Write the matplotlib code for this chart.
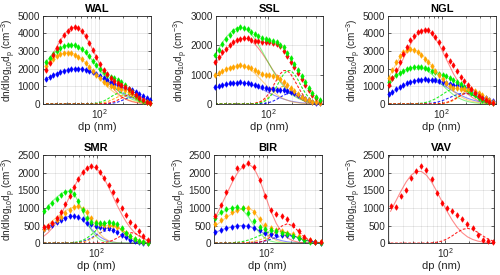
import matplotlib
matplotlib.use("Agg")
import matplotlib.pyplot as plt
from matplotlib.ticker import LogLocator, NullFormatter

plt.rcParams['font.family'] = ['Liberation Sans', 'DejaVu Sans']
plt.rcParams['mathtext.fontset'] = 'custom'
plt.rcParams['mathtext.rm'] = 'Liberation Sans'
plt.rcParams['mathtext.it'] = 'Liberation Sans:italic'
plt.rcParams['mathtext.default'] = 'regular'

# size bins (nm)
dp30 = [21.8, 24.2, 26.8, 29.7, 33.0, 36.6, 40.5, 45.0, 49.9, 55.3, 61.3, 68.0, 75.4, 83.7, 92.8,
        103, 114, 127, 140, 156, 173, 191, 212, 236, 261, 290, 321, 356, 395, 438]
dp25 = [21.7, 24.6, 27.9, 31.6, 35.8, 40.5, 45.9, 52.0, 58.9, 66.8, 75.6, 85.7, 97.1, 110, 125,
        141, 160, 181, 206, 233, 264, 299, 339, 384, 435]
dp20 = [22.6, 26.5, 31.1, 36.6, 42.9, 50.4, 59.2, 69.5, 81.6, 95.8, 112, 132, 155, 182, 214,
        251, 295, 346, 406, 477]
dp21 = [20.9, 24.2, 28.1, 32.6, 37.7, 43.7, 50.7, 58.7, 68.1, 78.9, 91.4, 106, 123, 142, 165,
        191, 221, 257, 297, 345, 399]

# WAL
wal_red = [1950, 2300, 2750, 3150, 3550, 3900, 4150, 4300, 4380, 4330, 4150, 3850, 3450, 3050, 2650,
           2250, 1950, 1700, 1480, 1300, 1180, 1080, 960, 830, 660, 480, 330, 210, 130, 70]
wal_red_m1 = [2040, 2436, 2841, 3236, 3597, 3911, 4150, 4298, 4350, 4289, 4115, 3837, 3484, 3075, 2640,
              2201, 1788, 1414, 1083, 809, 587, 418, 287, 191, 126, 78, 48, 30, 17, 9]
wal_red_m2 = [0] * 15 + [6, 16, 36, 74, 137, 226, 334, 441, 520, 550, 520, 441, 334, 226, 137]
wal_green = [2400, 2620, 2820, 3000, 3150, 3260, 3330, 3350, 3330, 3240, 3100, 2920, 2700, 2450, 2210,
             1980, 1790, 1640, 1530, 1450, 1360, 1240, 1070, 870, 650, 450, 300, 180, 110, 60]
wal_green_m1 = [2385, 2610, 2817, 2998, 3149, 3260, 3327, 3350, 3320, 3233, 3092, 2908, 2683, 2432, 2167,
                1896, 1631, 1377, 1142, 931, 747, 586, 452, 345, 258, 188, 134, 94, 67, 44]
wal_green_m2 = [0] * 12 + [7, 19, 43, 88, 162, 267, 395, 521, 615, 650, 615, 521, 395, 267, 162, 88, 43, 19]
wal_orange = [2150, 2380, 2560, 2700, 2810, 2880, 2900, 2880, 2800, 2680, 2520, 2330, 2110, 1890, 1660,
              1450, 1260, 1120, 1010, 950, 910, 870, 800, 700, 560, 420, 290, 180, 110, 60]
wal_orange_m1 = [2190, 2387, 2558, 2703, 2810, 2877, 2900, 2874, 2799, 2677, 2517, 2323, 2105, 1876, 1641,
                 1412, 1192, 989, 806, 647, 508, 392, 299, 223, 162, 116, 81, 58, 38, 25]
wal_orange_m2 = [0] * 14 + [15, 33, 68, 125, 206, 304, 401, 473, 500, 473, 401, 304, 206, 125, 68, 33]
wal_blue = [1420, 1530, 1630, 1720, 1800, 1870, 1920, 1960, 1990, 2000, 1990, 1950, 1890, 1810, 1720,
            1610, 1490, 1360, 1245, 1140, 1050, 970, 900, 840, 800, 700, 580, 450, 320, 200]
wal_blue_m1 = [1430, 1535, 1634, 1724, 1804, 1872, 1926, 1967, 1992, 2000, 1984, 1938, 1864, 1764, 1646,
               1510, 1364, 1214, 1062, 916, 778, 650, 534, 432, 344, 270, 210, 160, 120, 88]
wal_blue_m2 = [0] * 17 + [13, 30, 61, 112, 185, 273, 360, 426, 450, 426, 360, 273, 185]

# SSL
ssl_red = [1440, 1600, 1750, 1880, 2000, 2100, 2170, 2220, 2240, 2230, 2190, 2150, 2130, 2120, 2110,
           2100, 2080, 2040, 1960, 1800, 1620, 1430, 1240, 1050, 860, 660, 480, 310, 190, 90]
ssl_red_m1 = [1354, 1521, 1684, 1835, 1967, 2078, 2161, 2212, 2230, 2208, 2141, 2034, 1893, 1728, 1545,
              1354, 1160, 977, 803, 649, 513, 397, 301, 225, 163, 116, 83, 56, 38, 25]
ssl_red_m2 = [0] * 11 + [21, 51, 110, 214, 374, 582, 813, 1014, 1134, 1134, 1014, 813, 582, 374, 214, 110,
                         51, 21, 8]
ssl_green = [1660, 1850, 2030, 2200, 2350, 2470, 2560, 2600, 2590, 2540, 2460, 2380, 2310, 2250, 2210,
             2180, 2150, 2100, 2020, 1920, 1740, 1560, 1360, 1160, 950, 740, 540, 370, 230, 130]
ssl_green_m1 = [1682, 1888, 2083, 2257, 2400, 2509, 2577, 2600, 2574, 2496, 2371, 2207, 2015, 1802, 1578,
                1352, 1139, 936, 757, 598, 463, 351, 263, 190, 135, 96, 65, 44, 29, 18]
ssl_green_m2 = [0] * 12 + [21, 51, 110, 214, 374, 582, 813, 1014, 1134, 1134, 1014, 813, 582, 374, 214,
                           110, 51, 21]
ssl_orange = [1000, 1060, 1120, 1180, 1230, 1270, 1300, 1310, 1300, 1270, 1220, 1160, 1090, 1030, 990,
              970, 950, 920, 860, 760, 650, 540, 440, 340, 250, 180, 120, 80, 50, 30]
ssl_orange_m1 = [961, 1041, 1114, 1178, 1230, 1269, 1292, 1300, 1282, 1230, 1147, 1041, 919, 789, 658,
                 534, 423, 324, 242, 176, 125, 86, 57, 38, 23, 14, 9, 5, 3, 1]
ssl_orange_m2 = [0] * 10 + [7, 17, 40, 81, 149, 247, 364, 481, 568, 600, 568, 481, 364, 247, 149, 81, 40,
                            17, 7, 3]
ssl_blue = [560, 600, 640, 670, 700, 715, 725, 730, 725, 710, 680, 640, 600, 560, 530,
            510, 500, 490, 480, 460, 430, 390, 360, 310, 240, 170, 120, 70, 40, 20]
ssl_blue_m1 = [532, 577, 617, 652, 681, 703, 716, 720, 713, 691, 657, 611, 558, 499, 437,
               374, 315, 259, 210, 166, 128, 97, 73, 53, 37, 27, 18, 12, 8, 5]
ssl_blue_m2 = [0] * 12 + [4, 11, 24, 50, 92, 152, 225, 296, 350, 370, 350, 296, 225, 152, 92, 50, 24, 11]

# NGL
ngl_red = [1050, 1450, 1900, 2400, 2850, 3250, 3600, 3870, 4050, 4150, 4200, 4170, 4030, 3800, 3500,
           3150, 2780, 2450, 2180, 1850, 1550, 1300, 1060, 840, 630, 450, 310, 210, 130, 80]
ngl_red_m1 = [1046, 1365, 1726, 2125, 2549, 2969, 3364, 3704, 3973, 4141, 4200, 4141, 3973, 3704, 3364,
              2969, 2549, 2125, 1726, 1365, 1046, 781, 567, 403, 277, 185, 122, 76, 46, 29]
ngl_red_m2 = [0] * 13 + [7, 17, 40, 81, 149, 247, 364, 481, 568, 600, 568, 481, 364, 247, 149, 81, 40]
ngl_orange = [1450, 1900, 2350, 2700, 2950, 3080, 3100, 3060, 2950, 2780, 2570, 2350, 2150, 1890, 1650,
              1400, 1190, 1030, 930, 880, 870, 870, 860, 820, 740, 620, 480, 340, 220, 130]
ngl_orange_m1 = [1510, 1882, 2251, 2589, 2861, 3038, 3100, 3069, 2976, 2827, 2632, 2403, 2148, 1882, 1612,
                 1358, 1116, 902, 713, 552, 419, 313, 226, 161, 115, 78, 53, 34, 22, 16]
ngl_orange_m2 = [0] * 14 + [9, 23, 53, 108, 199, 329, 486, 641, 757, 800, 757, 641, 486, 329, 199, 108]
ngl_green = [1250, 1450, 1620, 1770, 1890, 1990, 2060, 2100, 2110, 2090, 2040, 1970, 1890, 1800, 1720,
             1640, 1560, 1470, 1370, 1250, 1110, 960, 800, 640, 490, 350, 240, 150, 90, 50]
ngl_green_m1 = [1275, 1432, 1586, 1728, 1852, 1957, 2035, 2083, 2100, 2071, 1987, 1852, 1682, 1485, 1275,
                1063, 863, 683, 523, 391, 284, 202, 139, 92, 61, 38, 23, 15, 8, 4]
ngl_green_m2 = [0] * 8 + [21, 40, 72, 122, 194, 293, 412, 546, 680, 794, 872, 900, 872, 794, 680, 546,
                          412, 293, 194, 122, 72, 40]
ngl_blue = [570, 700, 830, 950, 1060, 1160, 1240, 1300, 1350, 1380, 1390, 1380, 1360, 1330, 1290,
            1240, 1180, 1150, 1100, 1060, 1010, 960, 880, 780, 660, 540, 420, 310, 230, 170]
ngl_blue_m1 = [571, 677, 787, 899, 1009, 1113, 1207, 1283, 1341, 1377, 1390, 1376, 1334, 1268, 1180,
               1077, 963, 844, 723, 609, 500, 404, 320, 247, 188, 140, 101, 72, 51, 35]
ngl_blue_m2 = [0] * 10 + [14, 27, 48, 81, 130, 195, 275, 364, 453, 529, 581, 600, 581, 529, 453, 364,
                          275, 195, 130, 81]

# SMR
smr_red = [450, 480, 560, 700, 880, 1100, 1340, 1590, 1830, 2020, 2140, 2180, 2150, 2030, 1860,
           1660, 1440, 1220, 1000, 800, 610, 480, 330, 200, 100]
smr_red_m1 = [194, 294, 432, 606, 818, 1062, 1323, 1583, 1820, 2012, 2136, 2180, 2136, 2012, 1820,
              1583, 1323, 1062, 818, 606, 432, 294, 194, 122, 74]
smr_red_m2 = [0] * 13 + [6, 17, 40, 83, 146, 218, 277, 300, 277, 218, 146, 83]
smr_green = [920, 1020, 1130, 1250, 1360, 1450, 1480, 1400, 1200, 950, 720, 590, 560, 570, 580,
             590, 580, 550, 420, 300, 190, 110, 50, 30, 10]
smr_green_m1 = [898, 1046, 1185, 1305, 1400, 1459, 1480, 1400, 1185, 898, 608, 369, 200, 98, 43,
                16, 6, 2, 0, 0, 0, 0, 0, 0, 0]
smr_green_m2 = [0] * 6 + [6, 17, 38, 78, 144, 238, 352, 465, 549, 580, 549, 465, 352, 238, 144, 78, 38, 17, 6]
smr_orange = [400, 470, 560, 650, 750, 850, 950, 1020, 1040, 980, 870, 720, 600, 540, 520,
              520, 510, 470, 400, 300, 200, 120, 60, 30, 12]
smr_orange_m1 = [427, 526, 631, 735, 833, 917, 984, 1025, 1040, 984, 833, 631, 427, 259, 140,
                 69, 30, 11, 4, 0, 0, 0, 0, 0, 0]
smr_orange_m2 = [0] * 8 + [14, 32, 65, 120, 197, 291, 384, 454, 480, 454, 384, 291, 197, 120, 65, 32, 14]
smr_blue = [390, 450, 520, 590, 660, 720, 760, 770, 750, 680, 580, 540, 480, 460, 440,
            420, 380, 320, 240, 160, 95, 50, 25, 12, 5]
smr_blue_m1 = [390, 467, 544, 617, 679, 728, 759, 770, 739, 654, 534, 400, 277, 177, 104,
               56, 28, 13, 5, 0, 0, 0, 0, 0, 0]
smr_blue_m2 = [0] * 7 + [10, 24, 49, 90, 148, 219, 288, 341, 360, 341, 288, 219, 148, 90, 49, 24, 10, 4]

# BIR
bir_red = [780, 1080, 1450, 1840, 2130, 2180, 2280, 2170, 1790, 1340, 950, 830, 770, 690, 520,
           340, 180, 90, 40, 20]
bir_red_m1 = [731, 1031, 1366, 1699, 1985, 2180, 2250, 2129, 1802, 1366, 925, 560, 304, 149, 65,
              25, 9, 3, 1, 0]
bir_red_m2 = [0] * 7 + [6, 24, 74, 179, 334, 485, 550, 485, 334, 179, 74, 24, 6]
bir_green = [720, 880, 960, 1000, 1020, 1010, 860, 620, 470, 400, 370, 340, 300, 260, 200,
             140, 80, 40, 20, 10]
bir_green_m1 = [741, 852, 941, 1000, 1020, 941, 741, 497, 284, 138, 57, 20, 6, 2, 0,
                0, 0, 0, 0, 0]
bir_green_m2 = [0] * 3 + [10, 23, 47, 87, 144, 212, 280, 331, 350, 331, 280, 212, 144, 87, 47, 23, 10]
bir_orange = [530, 660, 780, 880, 950, 990, 1000, 880, 680, 520, 430, 360, 330, 300, 260,
              200, 130, 80, 40, 20]
bir_orange_m1 = [487, 607, 726, 835, 923, 980, 1000, 902, 662, 395, 191, 76, 24, 6, 1,
                 0, 0, 0, 0, 0]
bir_orange_m2 = [0] * 5 + [6, 18, 43, 89, 156, 232, 295, 320, 295, 232, 156, 89, 43, 18, 6]
bir_blue = [320, 380, 430, 470, 495, 500, 490, 440, 370, 300, 260, 240, 230, 220, 190,
            150, 100, 60, 30, 15]
bir_blue_m1 = [304, 363, 418, 462, 490, 500, 480, 425, 347, 260, 180, 115, 68, 37, 19,
               9, 4, 2, 1, 0]
bir_blue_m2 = [0] * 6 + [4, 12, 30, 61, 107, 160, 203, 220, 203, 160, 107, 61, 30, 12]

# VAV
vav_red = [1050, 1030, 1340, 1520, 1840, 2060, 2200, 2070, 1810, 1430, 1150, 1010, 920, 800, 680,
           540, 420, 230, 100, 70, 40]
vav_red_m1 = [904, 1187, 1472, 1732, 1929, 2036, 2036, 1929, 1732, 1472, 1187, 904, 654, 449, 291,
              178, 105, 57, 31, 14, 6]
vav_red_m2 = [0] * 8 + [8, 24, 57, 117, 205, 305, 388, 420, 388, 305, 205, 117, 57]

colors = {'blue': '#0000ff', 'orange': '#ffa500', 'green': '#00ee00', 'red': '#ff0000'}
axcol = '#262626'

panels = [
    ('WAL', [0.086, 0.622, 0.216, 0.321], dp30, (20.0, 447), 5000, 1000,
     [('blue', wal_blue, wal_blue_m1, wal_blue_m2), ('orange', wal_orange, wal_orange_m1, wal_orange_m2),
      ('green', wal_green, wal_green_m1, wal_green_m2), ('red', wal_red, wal_red_m1, wal_red_m2)]),
    ('SSL', [0.431, 0.622, 0.215, 0.321], dp30, (22.0, 483), 3000, 1000,
     [('blue', ssl_blue, ssl_blue_m1, ssl_blue_m2), ('orange', ssl_orange, ssl_orange_m1, ssl_orange_m2),
      ('red', ssl_red, ssl_red_m1, ssl_red_m2), ('green', ssl_green, ssl_green_m1, ssl_green_m2)]),
    ('NGL', [0.776, 0.622, 0.215, 0.321], dp30, (21.3, 473), 5000, 1000,
     [('blue', ngl_blue, ngl_blue_m1, ngl_blue_m2), ('green', ngl_green, ngl_green_m1, ngl_green_m2),
      ('orange', ngl_orange, ngl_orange_m1, ngl_orange_m2), ('red', ngl_red, ngl_red_m1, ngl_red_m2)]),
    ('SMR', [0.086, 0.116, 0.214, 0.32], dp25, (21.3, 464), 2500, 500,
     [('blue', smr_blue, smr_blue_m1, smr_blue_m2), ('orange', smr_orange, smr_orange_m1, smr_orange_m2),
      ('green', smr_green, smr_green_m1, smr_green_m2), ('red', smr_red, smr_red_m1, smr_red_m2)]),
    ('BIR', [0.428, 0.116, 0.215, 0.32], dp20, (21.9, 487), 2500, 500,
     [('blue', bir_blue, bir_blue_m1, bir_blue_m2), ('orange', bir_orange, bir_orange_m1, bir_orange_m2),
      ('green', bir_green, bir_green_m1, bir_green_m2), ('red', bir_red, bir_red_m1, bir_red_m2)]),
    ('VAV', [0.776, 0.116, 0.212, 0.32], dp21, (19.4, 410), 2500, 500,
     [('red', vav_red, vav_red_m1, vav_red_m2)]),
]

fig = plt.figure(figsize=(5, 2.75), dpi=100)

for name, rect, dp, xlim, ymax, ystep, series in panels:
    ax = fig.add_axes(rect)
    for cname, meas, m1, m2 in series:
        c = colors[cname]
        ax.plot(dp, m1, '-', color=c, lw=0.8, alpha=0.45, zorder=2)
        ax.plot(dp, m2, '--', color=c, lw=0.8, alpha=0.85, dashes=(2.5, 1.5), zorder=2)
        ax.plot(dp, meas, 'd', color=c, ms=2.8, mec=c, mew=0.5, zorder=3, clip_on=False)
    ax.set_xscale('log')
    ax.set_xlim(*xlim)
    ax.set_ylim(0, ymax)
    ax.set_yticks(range(0, ymax + 1, ystep))
    ax.set_xticks([100])
    ax.set_xticklabels(['$10^{2}$'])
    ax.xaxis.set_minor_locator(LogLocator(base=10, subs=range(2, 10)))
    ax.xaxis.set_minor_formatter(NullFormatter())
    ax.grid(which='major', color=axcol, alpha=0.15, lw=0.5)
    ax.grid(which='minor', axis='x', color=axcol, alpha=0.1, lw=0.5)
    ax.set_axisbelow(True)
    ax.tick_params(which='both', direction='in', length=2.5, width=0.5, color=axcol,
                   labelsize=7.2, labelcolor=axcol, pad=2, top=True, right=True)
    ax.tick_params(which='minor', length=1.5)
    for s in ax.spines.values():
        s.set_color(axcol)
        s.set_linewidth(0.6)
    ax.set_title(name, fontsize=8, fontweight='bold', color='black', pad=3)
    ax.set_xlabel('dp (nm)', fontsize=8, color=axcol, labelpad=1)
    ax.set_ylabel('dn/dlog$_{10}$d$_p$ (cm$^{-3}$)', fontsize=7.2, color=axcol)
    ax.yaxis.set_label_coords(-0.235, 0.5)

fig.savefig('out.png', dpi=100)
